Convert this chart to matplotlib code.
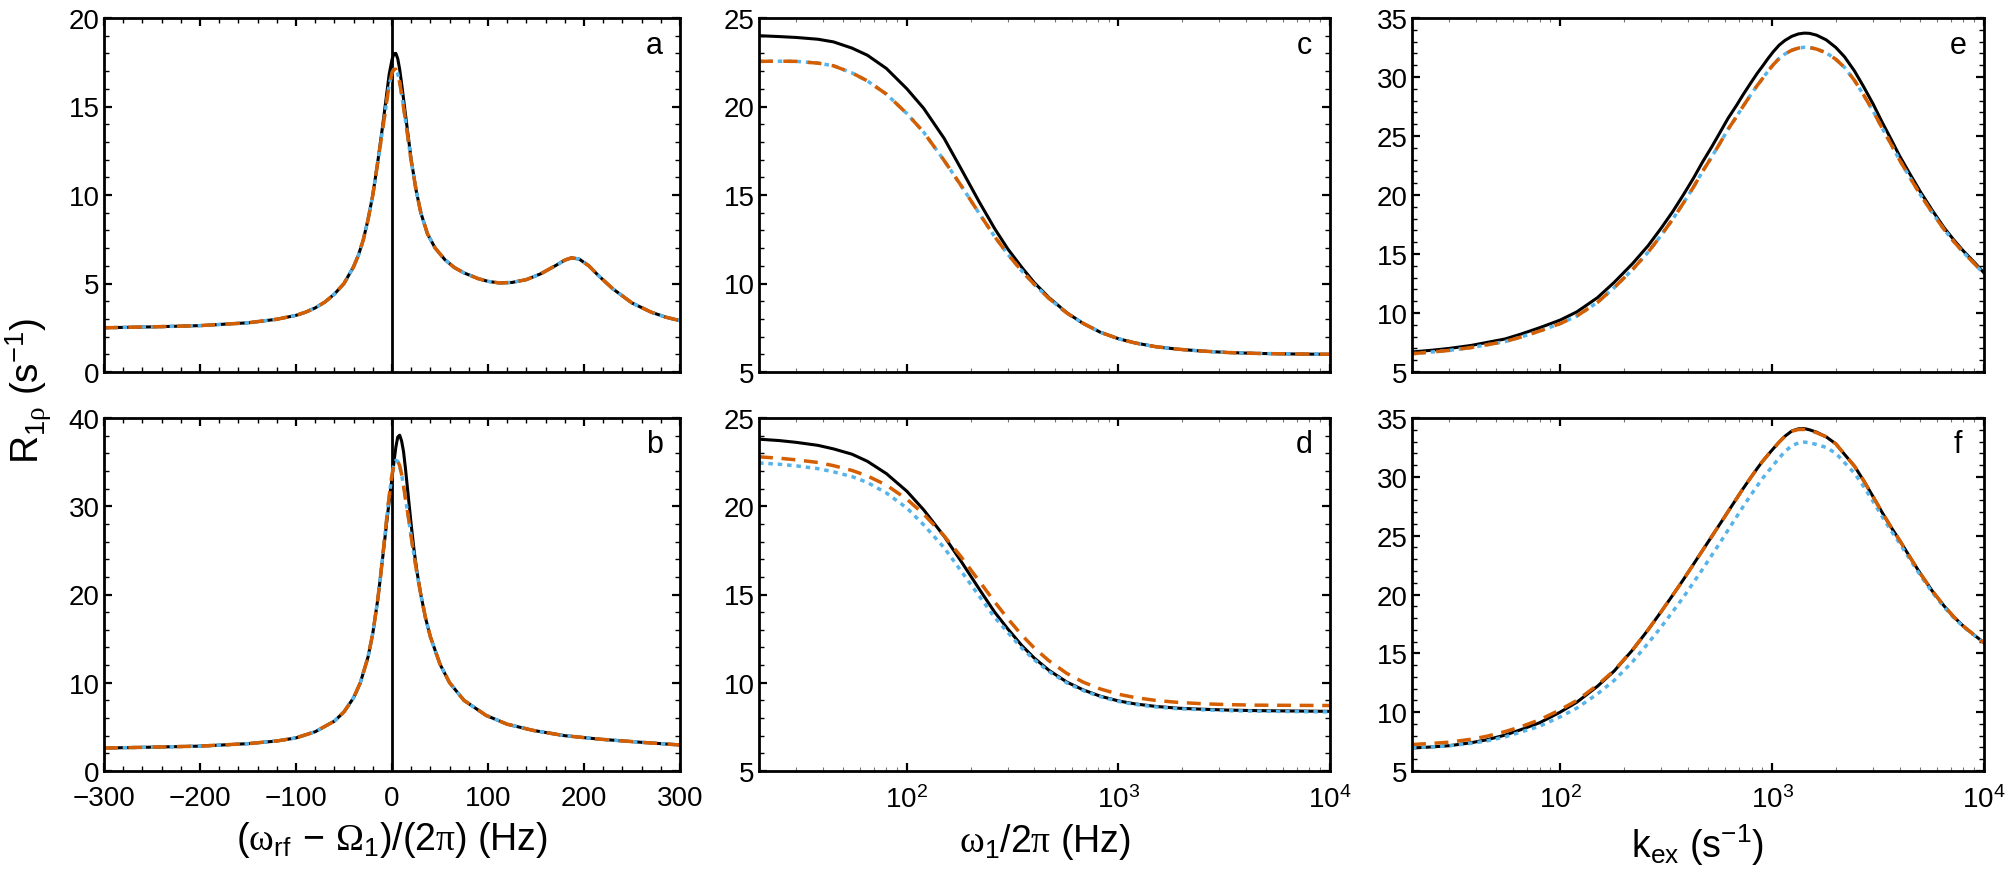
import matplotlib
matplotlib.use("Agg")
import matplotlib.pyplot as plt
from matplotlib.ticker import MultipleLocator, LogLocator, LogFormatterMathtext, NullFormatter

plt.rcParams['font.family'] = ['Liberation Sans', 'DejaVu Sans']
plt.rcParams['mathtext.fontset'] = 'custom'
plt.rcParams['mathtext.rm'] = 'Liberation Sans'
plt.rcParams['mathtext.it'] = 'Liberation Sans:italic'
plt.rcParams['mathtext.sf'] = 'Liberation Serif'
plt.rcParams['mathtext.bf'] = 'Liberation Sans:bold'

# ---------------- data ----------------
# panel a : offset (Hz) vs R1rho
a_x = [-300, -250, -200, -150, -120, -100, -90, -80, -70, -60, -50, -40, -35, -30, -25, -20, -15, -10, -6, -3,
       0, 2, 4, 6, 8, 10, 13, 16, 20, 25, 30, 37, 45, 55, 65, 75, 90, 100, 112, 125, 140, 155, 170, 180,
       187, 195, 205, 215, 230, 250, 270, 285, 300]
a_black = [2.5, 2.55, 2.62, 2.78, 2.98, 3.2, 3.38, 3.62, 3.95, 4.4, 5.0, 5.95, 6.6, 7.45, 8.6, 10.0, 11.8, 13.8, 15.5, 16.8,
           17.65, 17.98, 18.0, 17.7, 17.1, 16.3, 15.0, 13.7, 12.0, 10.3, 9.0, 7.8, 7.0, 6.35, 5.9, 5.6, 5.27, 5.12, 5.03,
           5.06, 5.22, 5.55, 6.0, 6.32, 6.45, 6.38, 6.0, 5.45, 4.7, 3.9, 3.38, 3.1, 2.9]
a_color = [2.5, 2.55, 2.62, 2.78, 2.98, 3.2, 3.38, 3.62, 3.95, 4.4, 5.0, 5.95, 6.6, 7.45, 8.6, 10.0, 11.8, 13.6, 15.1, 16.2,
           16.9, 17.1, 17.1, 16.85, 16.35, 15.7, 14.6, 13.45, 11.9, 10.3, 9.0, 7.8, 7.0, 6.35, 5.9, 5.6, 5.27, 5.12, 5.03,
           5.06, 5.22, 5.55, 6.0, 6.32, 6.45, 6.38, 6.0, 5.45, 4.7, 3.9, 3.38, 3.1, 2.9]

# panel b
b_x = [-300, -250, -200, -150, -120, -100, -80, -60, -50, -40, -33, -25, -20, -15, -12, -8, -4, 0, 2, 4, 6, 8, 10,
       12, 14, 17, 20, 23, 26, 30, 35, 40, 50, 60, 75, 98, 120, 147, 180, 217, 260, 300]
b_black = [2.6, 2.7, 2.82, 3.1, 3.4, 3.75, 4.45, 5.65, 6.7, 8.3, 10.0, 12.9, 15.6, 19.3, 22.0, 25.8, 29.6, 33.2, 35.0,
           36.7, 37.85, 38.05, 37.4, 36.2, 34.3, 31.1, 27.9, 25.0, 22.6, 20.0, 17.3, 15.2, 12.1, 10.0, 8.0, 6.3, 5.3,
           4.6, 4.0, 3.6, 3.25, 2.95]
b_color = [2.6, 2.7, 2.82, 3.1, 3.4, 3.75, 4.45, 5.65, 6.7, 8.3, 10.0, 12.9, 15.6, 19.3, 22.0, 26.1, 30.2, 33.6, 34.7,
           35.2, 35.1, 34.6, 33.6, 32.3, 30.9, 28.8, 26.5, 24.4, 22.4, 20.0, 17.3, 15.2, 12.1, 10.0, 8.0, 6.3, 5.3,
           4.6, 4.0, 3.6, 3.25, 2.95]

# panels c, d : omega1/2pi (Hz)
cd_x = [20, 25, 30, 38, 45, 55, 65, 80, 100, 120, 150, 180, 220, 260, 300, 350, 400, 470, 570, 680, 820, 1000,
        1200, 1500, 1900, 2500, 3300, 4500, 6500, 10000]
c_black = [24.0, 23.95, 23.9, 23.8, 23.65, 23.3, 22.9, 22.15, 21.0, 19.9, 18.2, 16.5, 14.6, 13.1, 11.95, 10.9, 10.05,
           9.2, 8.35, 7.75, 7.25, 6.88, 6.64, 6.43, 6.29, 6.18, 6.1, 6.05, 6.02, 6.0]
c_color = [22.55, 22.56, 22.55, 22.45, 22.3, 21.9, 21.45, 20.7, 19.6, 18.55, 16.95, 15.55, 13.95, 12.65, 11.65, 10.7,
           9.95, 9.15, 8.33, 7.75, 7.25, 6.88, 6.64, 6.43, 6.29, 6.18, 6.1, 6.05, 6.02, 6.0]
d_black = [23.8, 23.72, 23.62, 23.45, 23.25, 22.95, 22.55, 21.85, 20.85, 19.8, 18.3, 16.9, 15.3, 14.0, 13.05, 12.1,
           11.4, 10.7, 10.04, 9.6, 9.24, 8.97, 8.8, 8.66, 8.56, 8.5, 8.45, 8.42, 8.4, 8.38]
d_orange = [22.8, 22.72, 22.63, 22.48, 22.3, 22.03, 21.72, 21.2, 20.4, 19.56, 18.32, 17.15, 15.75, 14.58, 13.63, 12.69,
            11.97, 11.24, 10.53, 10.04, 9.65, 9.35, 9.16, 9.0, 8.89, 8.81, 8.76, 8.73, 8.72, 8.71]
d_blue = [22.45, 22.38, 22.29, 22.13, 21.95, 21.68, 21.35, 20.75, 19.9, 18.95, 17.65, 16.35, 14.9, 13.7, 12.85, 11.95,
          11.3, 10.63, 9.99, 9.56, 9.21, 8.94, 8.77, 8.63, 8.53, 8.47, 8.42, 8.39, 8.37, 8.35]

# panels e, f : kex (s^-1)
ef_x = [20, 25, 30, 38, 45, 55, 65, 80, 100, 120, 150, 180, 220, 260, 300, 340, 381, 425, 470, 520, 568, 620, 680,
        730, 787, 850, 900, 960, 1014, 1080, 1150, 1240, 1331, 1420, 1500, 1620, 1800, 2000, 2200, 2450, 2700,
        3000, 3300, 3650, 4000, 4500, 5000, 5700, 6500, 7200, 8000, 9000, 10000]
e_black = [6.7, 6.85, 7.0, 7.25, 7.5, 7.8, 8.2, 8.75, 9.4, 10.1, 11.3, 12.6, 14.2, 15.7, 17.2, 18.6, 20.0, 21.4, 22.8,
           24.1, 25.3, 26.5, 27.6, 28.5, 29.4, 30.3, 30.9, 31.6, 32.15, 32.7, 33.1, 33.45, 33.65, 33.72, 33.7, 33.55,
           33.15, 32.5, 31.7, 30.5, 29.2, 27.7, 26.2, 24.7, 23.3, 21.7, 20.3, 18.7, 17.2, 16.2, 15.25, 14.3, 13.4]
e_color = [6.55, 6.7, 6.83, 7.07, 7.3, 7.58, 7.95, 8.47, 9.1, 9.75, 10.9, 12.15, 13.7, 15.15, 16.6, 17.95, 19.3, 20.65,
           22.0, 23.25, 24.4, 25.57, 26.65, 27.52, 28.4, 29.27, 29.85, 30.53, 31.05, 31.57, 31.95, 32.27, 32.45, 32.52,
           32.5, 32.37, 32.05, 31.5, 30.8, 29.7, 28.5, 27.1, 25.7, 24.28, 22.95, 21.4, 20.05, 18.5, 17.05, 16.06,
           15.13, 14.19, 13.3]
f_black = [6.95, 7.05, 7.15, 7.4, 7.65, 8.05, 8.5, 9.1, 10.0, 10.85, 12.2, 13.5, 15.3, 17.0, 18.55, 19.95, 21.25, 22.55,
           23.75, 24.95, 26.0, 27.05, 28.15, 29.0, 29.85, 30.7, 31.3, 31.9, 32.4, 32.95, 33.45, 33.9, 34.08, 34.1, 34.0,
           33.8, 33.4, 32.8, 31.9, 30.9, 29.7, 28.3, 27.0, 25.7, 24.6, 23.1, 21.8, 20.3, 19.0, 18.1, 17.3, 16.55, 15.9]
f_orange = [7.25, 7.35, 7.45, 7.7, 7.95, 8.35, 8.75, 9.35, 10.2, 11.0, 12.3, 13.55, 15.3, 17.0, 18.55, 19.95, 21.25,
            22.55, 23.75, 24.95, 26.0, 27.05, 28.15, 29.0, 29.85, 30.7, 31.3, 31.9, 32.4, 32.95, 33.45, 33.88, 34.02,
            34.03, 33.95, 33.75, 33.4, 32.8, 31.9, 30.9, 29.7, 28.3, 27.0, 25.7, 24.6, 23.1, 21.8, 20.3, 19.0, 18.1,
            17.3, 16.55, 15.9]
f_blue = [7.0, 7.05, 7.15, 7.35, 7.55, 7.9, 8.3, 8.8, 9.6, 10.35, 11.55, 12.7, 14.3, 15.85, 17.25, 18.55, 19.75, 21.0,
          22.15, 23.35, 24.4, 25.48, 26.6, 27.47, 28.35, 29.22, 29.85, 30.47, 31.0, 31.6, 32.15, 32.65, 32.88, 32.95,
          32.9, 32.75, 32.5, 32.0, 31.2, 30.3, 29.2, 27.9, 26.65, 25.4, 24.35, 22.9, 21.65, 20.18, 18.9, 18.03,
          17.25, 16.52, 15.9]

a_yticks = [0, 5, 10, 15, 20]
b_yticks = [0, 10, 20, 30, 40]
cd_yticks = [5, 10, 15, 20, 25]
ef_yticks = [5, 10, 15, 20, 25, 30, 35]
offset_xticks = [-300, -200, -100, 0, 100, 200, 300]
panel_letters = ['a', 'b', 'c', 'd', 'e', 'f']

# ---------------- styling ----------------
BLACK = 'black'
ORANGE = '#D55E00'
BLUE = '#56B4E9'
LW = 2.2
TICK_FS = 20
LABEL_FS = 27

fig = plt.figure(figsize=(20.1, 8.78), dpi=100)
W, H = 2010.0, 878.0

def box(x0, x1, y0, y1):
    return [x0 / W, 1 - y1 / H, (x1 - x0) / W, (y1 - y0) / H]

ax_a = fig.add_axes(box(104, 680, 19, 373))
ax_b = fig.add_axes(box(104, 680, 419, 772))
ax_c = fig.add_axes(box(759, 1330, 19, 373))
ax_d = fig.add_axes(box(759, 1330, 419, 772))
ax_e = fig.add_axes(box(1412, 1984, 19, 373))
ax_f = fig.add_axes(box(1412, 1984, 419, 772))
axes = [ax_a, ax_b, ax_c, ax_d, ax_e, ax_f]

def style(ax):
    for s in ax.spines.values():
        s.set_linewidth(2.0)
    ax.tick_params(which='both', direction='in', top=True, right=True, labelsize=TICK_FS)
    ax.tick_params(axis='x', which='both', pad=10)
    ax.tick_params(axis='y', which='both', pad=3)
    ax.tick_params(which='major', length=6, width=1.6)
    ax.tick_params(which='minor', length=3.5, width=1.0)

def dashed(ax, x, y, color, dashes):
    ax.plot(x, y, color=color, lw=LW + 0.3, dashes=dashes)

# a
ax_a.axvline(0, color=BLACK, lw=2.0)
ax_a.plot(a_x, a_black, color=BLACK, lw=LW)
dashed(ax_a, a_x, a_color, BLUE, (1.3, 1.4))
dashed(ax_a, a_x, a_color, ORANGE, (4.0, 3.0))
ax_a.set_xlim(-300, 300)
ax_a.set_ylim(0, 20)
ax_a.set_yticks(a_yticks)

# b
ax_b.axvline(0, color=BLACK, lw=2.0)
ax_b.plot(b_x, b_black, color=BLACK, lw=LW)
dashed(ax_b, b_x, b_color, BLUE, (1.3, 1.4))
dashed(ax_b, b_x, b_color, ORANGE, (4.0, 3.0))
ax_b.set_xlim(-300, 300)
ax_b.set_ylim(0, 40)
ax_b.set_yticks(b_yticks)
ax_b.yaxis.set_minor_locator(MultipleLocator(2))

for ax in (ax_a, ax_b):
    ax.set_xticks(offset_xticks)
    ax.xaxis.set_minor_locator(MultipleLocator(20))
ax_a.yaxis.set_minor_locator(MultipleLocator(1))
ax_a.tick_params(labelbottom=False)

# c
ax_c.plot(cd_x, c_black, color=BLACK, lw=LW)
dashed(ax_c, cd_x, c_color, BLUE, (1.3, 1.4))
dashed(ax_c, cd_x, c_color, ORANGE, (4.0, 3.0))
# d
ax_d.plot(cd_x, d_black, color=BLACK, lw=LW)
dashed(ax_d, cd_x, d_blue, BLUE, (1.3, 1.4))
dashed(ax_d, cd_x, d_orange, ORANGE, (4.0, 2.5))
for ax in (ax_c, ax_d):
    ax.set_ylim(5, 25)
    ax.set_yticks(cd_yticks)

# e
ax_e.plot(ef_x, e_black, color=BLACK, lw=LW)
dashed(ax_e, ef_x, e_color, BLUE, (1.3, 1.4))
dashed(ax_e, ef_x, e_color, ORANGE, (4.0, 3.0))
# f
ax_f.plot(ef_x, f_black, color=BLACK, lw=LW)
dashed(ax_f, ef_x, f_blue, BLUE, (1.3, 1.4))
dashed(ax_f, ef_x, f_orange, ORANGE, (4.0, 2.5))
for ax in (ax_e, ax_f):
    ax.set_ylim(5, 35)
    ax.set_yticks(ef_yticks)

for ax in (ax_c, ax_d, ax_e, ax_f):
    ax.set_xscale('log')
    ax.set_xlim(20, 1e4)
    ax.xaxis.set_major_locator(LogLocator(base=10, numticks=10))
    ax.xaxis.set_major_formatter(LogFormatterMathtext())
    ax.xaxis.set_minor_locator(LogLocator(base=10, subs=range(2, 10), numticks=20))
    ax.xaxis.set_minor_formatter(NullFormatter())
    ax.yaxis.set_minor_locator(MultipleLocator(1))
ax_c.tick_params(labelbottom=False)
ax_e.tick_params(labelbottom=False)

for ax in axes:
    style(ax)

for ax in (ax_c, ax_d, ax_e, ax_f):
    ax.tick_params(axis='x', which='minor', length=3, width=0.8, color='#777777')

for ax, letter in zip(axes, panel_letters):
    ax.text(0.955, 0.925, letter, transform=ax.transAxes, ha='center', va='center', fontsize=22)

ax_b.set_xlabel(r'$(\mathsf{\omega}_{\mathrm{rf}}\,-\,\mathsf{\Omega}_{1})/(2\mathsf{\pi})$ (Hz)',
                fontsize=LABEL_FS, labelpad=6)
ax_d.set_xlabel(r'$\mathsf{\omega}_{1}/2\mathsf{\pi}$ (Hz)', fontsize=LABEL_FS, labelpad=6)
ax_f.set_xlabel(r'$\mathrm{k}_{\mathrm{ex}}$ (s$^{-1}$)', fontsize=LABEL_FS, labelpad=6)
fig.text(0.014, 0.555, r'$\mathrm{R}_{1\mathsf{\rho}}$ (s$^{-1}$)', rotation=90, ha='center', va='center',
         fontsize=28)

fig.savefig('out.png', dpi=100)
